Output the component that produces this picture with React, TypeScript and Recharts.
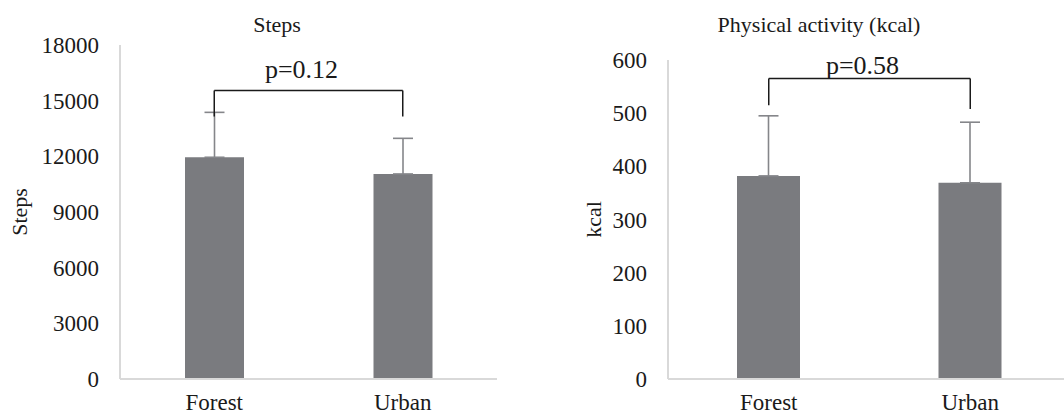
import React from "react";
import {
  Bar,
  BarChart,
  ErrorBar,
  ReferenceLine,
  XAxis,
  YAxis,
} from "recharts";

const categories = ["Forest", "Urban"];

const stepsMean = [11950, 11050];
const stepsSd = [2420, 1920];
const stepsTicks = [0, 3000, 6000, 9000, 12000, 15000, 18000];
const stepsBracketTop = 15550;
const stepsBracketEnds = [14150, 14150];
const stepsP = "p=0.12";

const kcalMean = [382, 369];
const kcalSd = [113, 114];
const kcalTicks = [0, 100, 200, 300, 400, 500, 600];
const kcalBracketTop = 565;
const kcalBracketEnds = [515, 508];
const kcalP = "p=0.58";

const FONT = '"Liberation Serif", "Times New Roman", serif';
const FRAME = "#d9d9d9";
const BAR = "#7a7b7f";
const INK = "#1a1a1a";

interface TickProps {
  x?: number;
  y?: number;
  payload?: { value?: string | number };
}

function YTick({ x = 0, y = 0, payload }: TickProps) {
  return (
    <text x={x} y={y} dy={8} textAnchor="end" fill={INK} fontSize={23} fontFamily={FONT}>
      {payload?.value}
    </text>
  );
}

function XTick({ x = 0, y = 0, payload }: TickProps) {
  return (
    <text x={x} y={y} dy={31} textAnchor="middle" fill={INK} fontSize={23} fontFamily={FONT}>
      {payload?.value}
    </text>
  );
}

interface PanelProps {
  left: number;
  width: number;
  top: number;
  rightMargin: number;
  title: string;
  titleX: number;
  axisLabel: string;
  axisLabelX: number;
  means: number[];
  sds: number[];
  ticks: number[];
  bracketTop: number;
  bracketEnds: number[];
  pText: string;
  pGap: number;
  barSize: number;
}

function Panel({
  left,
  width,
  top,
  rightMargin,
  title,
  titleX,
  axisLabel,
  axisLabelX,
  means,
  sds,
  ticks,
  bracketTop,
  bracketEnds,
  pText,
  pGap,
  barSize,
}: PanelProps) {
  const data = categories.map((name, i) => ({
    name,
    mean: means[i],
    err: [0, sds[i]],
  }));
  const maxTick = ticks[ticks.length - 1];

  return (
    <div style={{ position: "absolute", left, top: 0 }}>
      <BarChart
        width={width}
        height={416}
        data={data}
        margin={{ top, right: rightMargin, bottom: 0, left: 0 }}
        barCategoryGap={0}
      >
        <text x={titleX} y={32} textAnchor="middle" fill={INK} fontSize={22} fontFamily={FONT}>
          {title}
        </text>
        <XAxis
          dataKey="name"
          height={37}
          axisLine={{ stroke: FRAME, strokeWidth: 2 }}
          tickLine={false}
          tickSize={0}
          tickMargin={0}
          interval={0}
          tick={<XTick />}
        />
        <XAxis
          xAxisId="top"
          dataKey="name"
          orientation="top"
          height={0}
          axisLine={{ stroke: FRAME, strokeWidth: 2 }}
          tickLine={false}
          tick={false}
        />
        <YAxis
          width={120}
          domain={[0, maxTick]}
          ticks={ticks}
          interval={0}
          axisLine={{ stroke: FRAME, strokeWidth: 2 }}
          tickLine={false}
          tickSize={0}
          tickMargin={21}
          tick={<YTick />}
          label={(props: any) => {
            const vb = props.viewBox ?? {};
            const cx = axisLabelX;
            const cy = (vb.y ?? 0) + (vb.height ?? 0) / 2;
            return (
              <text
                x={cx}
                y={cy}
                transform={`rotate(-90, ${cx}, ${cy})`}
                textAnchor="middle"
                fill={INK}
                fontSize={22}
                fontFamily={FONT}
              >
                {axisLabel}
              </text>
            );
          }}
        />
        <YAxis
          yAxisId="right"
          orientation="right"
          width={0}
          domain={[0, maxTick]}
          axisLine={{ stroke: FRAME, strokeWidth: 2 }}
          tickLine={false}
          tick={false}
        />
        <Bar dataKey="mean" fill={BAR} barSize={barSize} isAnimationActive={false}>
          <ErrorBar dataKey="err" width={10} stroke="#85868a" strokeWidth={1.6} direction="y" />
        </Bar>
        <ReferenceLine
          segment={[
            { x: categories[0], y: bracketTop },
            { x: categories[1], y: bracketTop },
          ]}
          stroke={INK}
          strokeWidth={1.5}
          label={(props: any) => {
            const vb = props.viewBox ?? {};
            const cx = (vb.x ?? 0) + (vb.width ?? 0) / 2 - 7;
            return (
              <text x={cx} y={(vb.y ?? 0) - pGap} textAnchor="middle" fill={INK} fontSize={26} fontFamily={FONT}>
                {pText}
              </text>
            );
          }}
        />
        {categories.map((c, i) => (
          <ReferenceLine
            key={c}
            segment={[
              { x: c, y: bracketTop },
              { x: c, y: bracketEnds[i] },
            ]}
            stroke={INK}
            strokeWidth={1.5}
          />
        ))}
      </BarChart>
    </div>
  );
}

export default function App() {
  return (
    <div
      style={{
        position: "absolute",
        left: 0,
        top: 0,
        width: 1064,
        height: 416,
        overflow: "hidden",
        background: "#fff",
      }}
    >
      <Panel
        left={0}
        width={540}
        top={45}
        rightMargin={43}
        title="Steps"
        titleX={277}
        axisLabel="Steps"
        axisLabelX={27}
        means={stepsMean}
        sds={stepsSd}
        ticks={stepsTicks}
        bracketTop={stepsBracketTop}
        bracketEnds={stepsBracketEnds}
        pText={stepsP}
        pGap={12}
        barSize={59}
      />
      <Panel
        left={548}
        width={523}
        top={60}
        rightMargin={0}
        title="Physical activity (kcal)"
        titleX={271}
        axisLabel="kcal"
        axisLabelX={53}
        means={kcalMean}
        sds={kcalSd}
        ticks={kcalTicks}
        bracketTop={kcalBracketTop}
        bracketEnds={kcalBracketEnds}
        pText={kcalP}
        pGap={5}
        barSize={63}
      />
    </div>
  );
}
